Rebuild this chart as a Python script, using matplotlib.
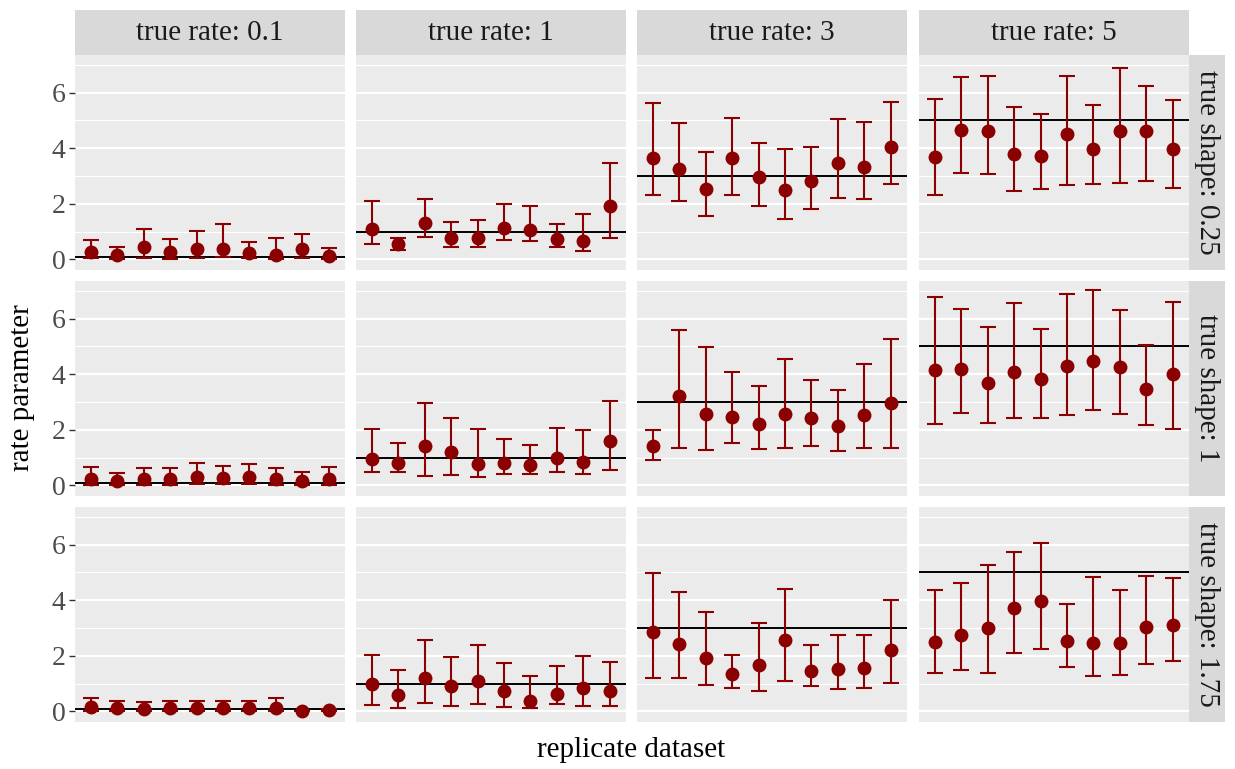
import numpy as np
import matplotlib.pyplot as plt

# facet labels
true_rates = [0.1, 1, 3, 5]
true_shapes = ["0.25", "1", "1.75"]
replicates = np.arange(1, 11)

# point estimates, lower and upper interval bounds, one row per true shape
est_shape025 = [
    [0.25, 0.16, 0.43, 0.28, 0.38, 0.37, 0.22, 0.17, 0.36, 0.12],
    [1.09, 0.54, 1.32, 0.78, 0.78, 1.14, 1.07, 0.73, 0.66, 1.92],
    [3.63, 3.25, 2.54, 3.63, 2.97, 2.51, 2.83, 3.45, 3.33, 4.03],
    [3.69, 4.64, 4.60, 3.80, 3.73, 4.51, 3.98, 4.62, 4.63, 3.98],
]
lo_shape025 = [
    [0.04, 0.01, 0.06, 0.02, 0.06, 0.07, 0.04, 0.01, 0.04, 0.01],
    [0.55, 0.34, 0.79, 0.43, 0.46, 0.70, 0.65, 0.46, 0.32, 0.76],
    [2.33, 2.11, 1.57, 2.33, 1.92, 1.47, 1.82, 2.21, 2.16, 2.72],
    [2.30, 3.12, 3.07, 2.47, 2.52, 2.67, 2.71, 2.76, 2.82, 2.57],
]
hi_shape025 = [
    [0.70, 0.46, 1.09, 0.74, 1.01, 1.28, 0.61, 0.76, 0.91, 0.41],
    [2.10, 0.76, 2.19, 1.35, 1.40, 1.98, 1.93, 1.29, 1.64, 3.48],
    [5.64, 4.92, 3.86, 5.10, 4.17, 3.97, 4.06, 5.05, 4.94, 5.67],
    [5.78, 6.55, 6.59, 5.49, 5.23, 6.60, 5.56, 6.89, 6.25, 5.73],
]

est_shape1 = [
    [0.24, 0.17, 0.22, 0.22, 0.31, 0.26, 0.29, 0.24, 0.17, 0.24],
    [0.95, 0.82, 1.42, 1.20, 0.78, 0.82, 0.75, 1.00, 0.85, 1.59],
    [1.43, 3.23, 2.58, 2.46, 2.20, 2.58, 2.43, 2.13, 2.54, 2.98],
    [4.16, 4.17, 3.70, 4.09, 3.82, 4.31, 4.48, 4.25, 3.47, 4.01],
]
lo_shape1 = [
    [0.03, 0.02, 0.03, 0.03, 0.05, 0.04, 0.05, 0.03, 0.02, 0.03],
    [0.47, 0.47, 0.34, 0.36, 0.32, 0.42, 0.40, 0.48, 0.42, 0.55],
    [0.93, 1.36, 1.27, 1.54, 1.30, 1.35, 1.42, 1.25, 1.33, 1.36],
    [2.20, 2.60, 2.24, 2.43, 2.43, 2.54, 2.70, 2.58, 2.19, 2.04],
]
hi_shape1 = [
    [0.67, 0.46, 0.63, 0.63, 0.81, 0.69, 0.78, 0.63, 0.50, 0.67],
    [2.04, 1.51, 2.98, 2.42, 2.03, 1.66, 1.44, 2.08, 2.00, 3.05],
    [1.98, 5.60, 4.99, 4.09, 3.59, 4.56, 3.80, 3.44, 4.38, 5.26],
    [6.78, 6.36, 5.71, 6.56, 5.63, 6.89, 7.02, 6.32, 5.05, 6.61],
]

est_shape175 = [
    [0.16, 0.11, 0.10, 0.11, 0.11, 0.11, 0.11, 0.13, 0.02, 0.05],
    [0.98, 0.60, 1.21, 0.91, 1.09, 0.72, 0.38, 0.62, 0.84, 0.72],
    [2.86, 2.44, 1.91, 1.34, 1.68, 2.58, 1.46, 1.52, 1.55, 2.22],
    [2.51, 2.75, 3.00, 3.72, 3.96, 2.54, 2.45, 2.45, 3.03, 3.11],
]
lo_shape175 = [
    [0.02, 0.01, 0.01, 0.01, 0.01, 0.01, 0.01, 0.02, 0.00, 0.01],
    [0.22, 0.14, 0.31, 0.18, 0.26, 0.16, 0.11, 0.25, 0.19, 0.18],
    [1.19, 1.20, 0.94, 0.86, 0.74, 1.08, 0.90, 0.79, 0.83, 1.04],
    [1.37, 1.49, 1.38, 2.10, 2.23, 1.58, 1.26, 1.32, 1.69, 1.81],
]
hi_shape175 = [
    [0.50, 0.37, 0.35, 0.37, 0.37, 0.37, 0.37, 0.47, 0.03, 0.08],
    [2.02, 1.50, 2.56, 1.97, 2.39, 1.74, 1.26, 1.64, 1.98, 1.76],
    [4.96, 4.30, 3.59, 2.02, 3.19, 4.41, 2.40, 2.75, 2.76, 4.02],
    [4.36, 4.63, 5.25, 5.75, 6.04, 3.87, 4.84, 4.38, 4.88, 4.78],
]

est = [est_shape025, est_shape1, est_shape175]
lo = [lo_shape025, lo_shape1, lo_shape175]
hi = [hi_shape025, hi_shape1, hi_shape175]

plt.rcParams["font.family"] = ["Liberation Serif", "DejaVu Serif"]

W, H = 1235, 769
fig = plt.figure(figsize=(W / 100, H / 100), dpi=100)

col_x = [75, 356, 637, 919]
pw = 269.5
row_y = [55, 281, 507]
ph = 215
red = "#8B0000"

for r in range(3):
    for c in range(4):
        x0 = col_x[c]
        y0 = row_y[r]
        ax = fig.add_axes([x0 / W, 1 - (y0 + ph) / H, pw / W, ph / H])
        ax.set_facecolor("#EBEBEB")
        for s in ax.spines.values():
            s.set_visible(False)
        ax.set_xlim(0.4, 10.6)
        ax.set_ylim(-0.38, 7.35)
        ax.set_yticks([0, 2, 4, 6])
        ax.set_yticks([1, 3, 5, 7], minor=True)
        ax.grid(True, which="major", axis="y", color="white", lw=1.6)
        ax.grid(True, which="minor", axis="y", color="white", lw=0.8)
        ax.set_axisbelow(True)
        ax.set_xticks([])
        ax.tick_params(axis="y", which="minor", length=0)
        if c == 0:
            ax.tick_params(axis="y", which="major", length=4, width=1.0,
                           color="#333333", labelsize=20, labelcolor="#4D4D4D", pad=3)
        else:
            ax.tick_params(axis="y", which="major", length=0, labelleft=False)

        e = np.array(est[r][c])
        l = np.array(lo[r][c])
        h = np.array(hi[r][c])
        ax.axhline(true_rates[c], color="black", lw=1.4, zorder=2)
        ax.errorbar(replicates, e, yerr=[e - l, h - e], fmt="o", color=red,
                    ecolor=red, elinewidth=1.5, capsize=5.5, capthick=1.5,
                    markersize=9, zorder=3)

        if r == 0:
            sax = fig.add_axes([x0 / W, 1 - 55 / H, pw / W, 45 / H])
            sax.set_facecolor("#D9D9D9")
            sax.set_xticks([])
            sax.set_yticks([])
            for s in sax.spines.values():
                s.set_visible(False)
            sax.text(0.5, 0.5, f"true rate: {true_rates[c]}", ha="center", va="center",
                     fontsize=21, color="#1A1A1A", transform=sax.transAxes)
        if c == 3:
            sax = fig.add_axes([1189 / W, 1 - (y0 + ph) / H, 36 / W, ph / H])
            sax.set_facecolor("#D9D9D9")
            sax.set_xticks([])
            sax.set_yticks([])
            for s in sax.spines.values():
                s.set_visible(False)
            sax.text(0.5, 0.5, f"true shape: {true_shapes[r]}", ha="center", va="center",
                     rotation=-90, fontsize=21, color="#1A1A1A", transform=sax.transAxes)

fig.text(631 / W, 1 - 750 / H, "replicate dataset", ha="center", va="center", fontsize=21)
fig.text(22 / W, 1 - 388 / H, "rate parameter", ha="center", va="center",
         rotation=90, fontsize=21)

fig.savefig("out.png", dpi=100)
